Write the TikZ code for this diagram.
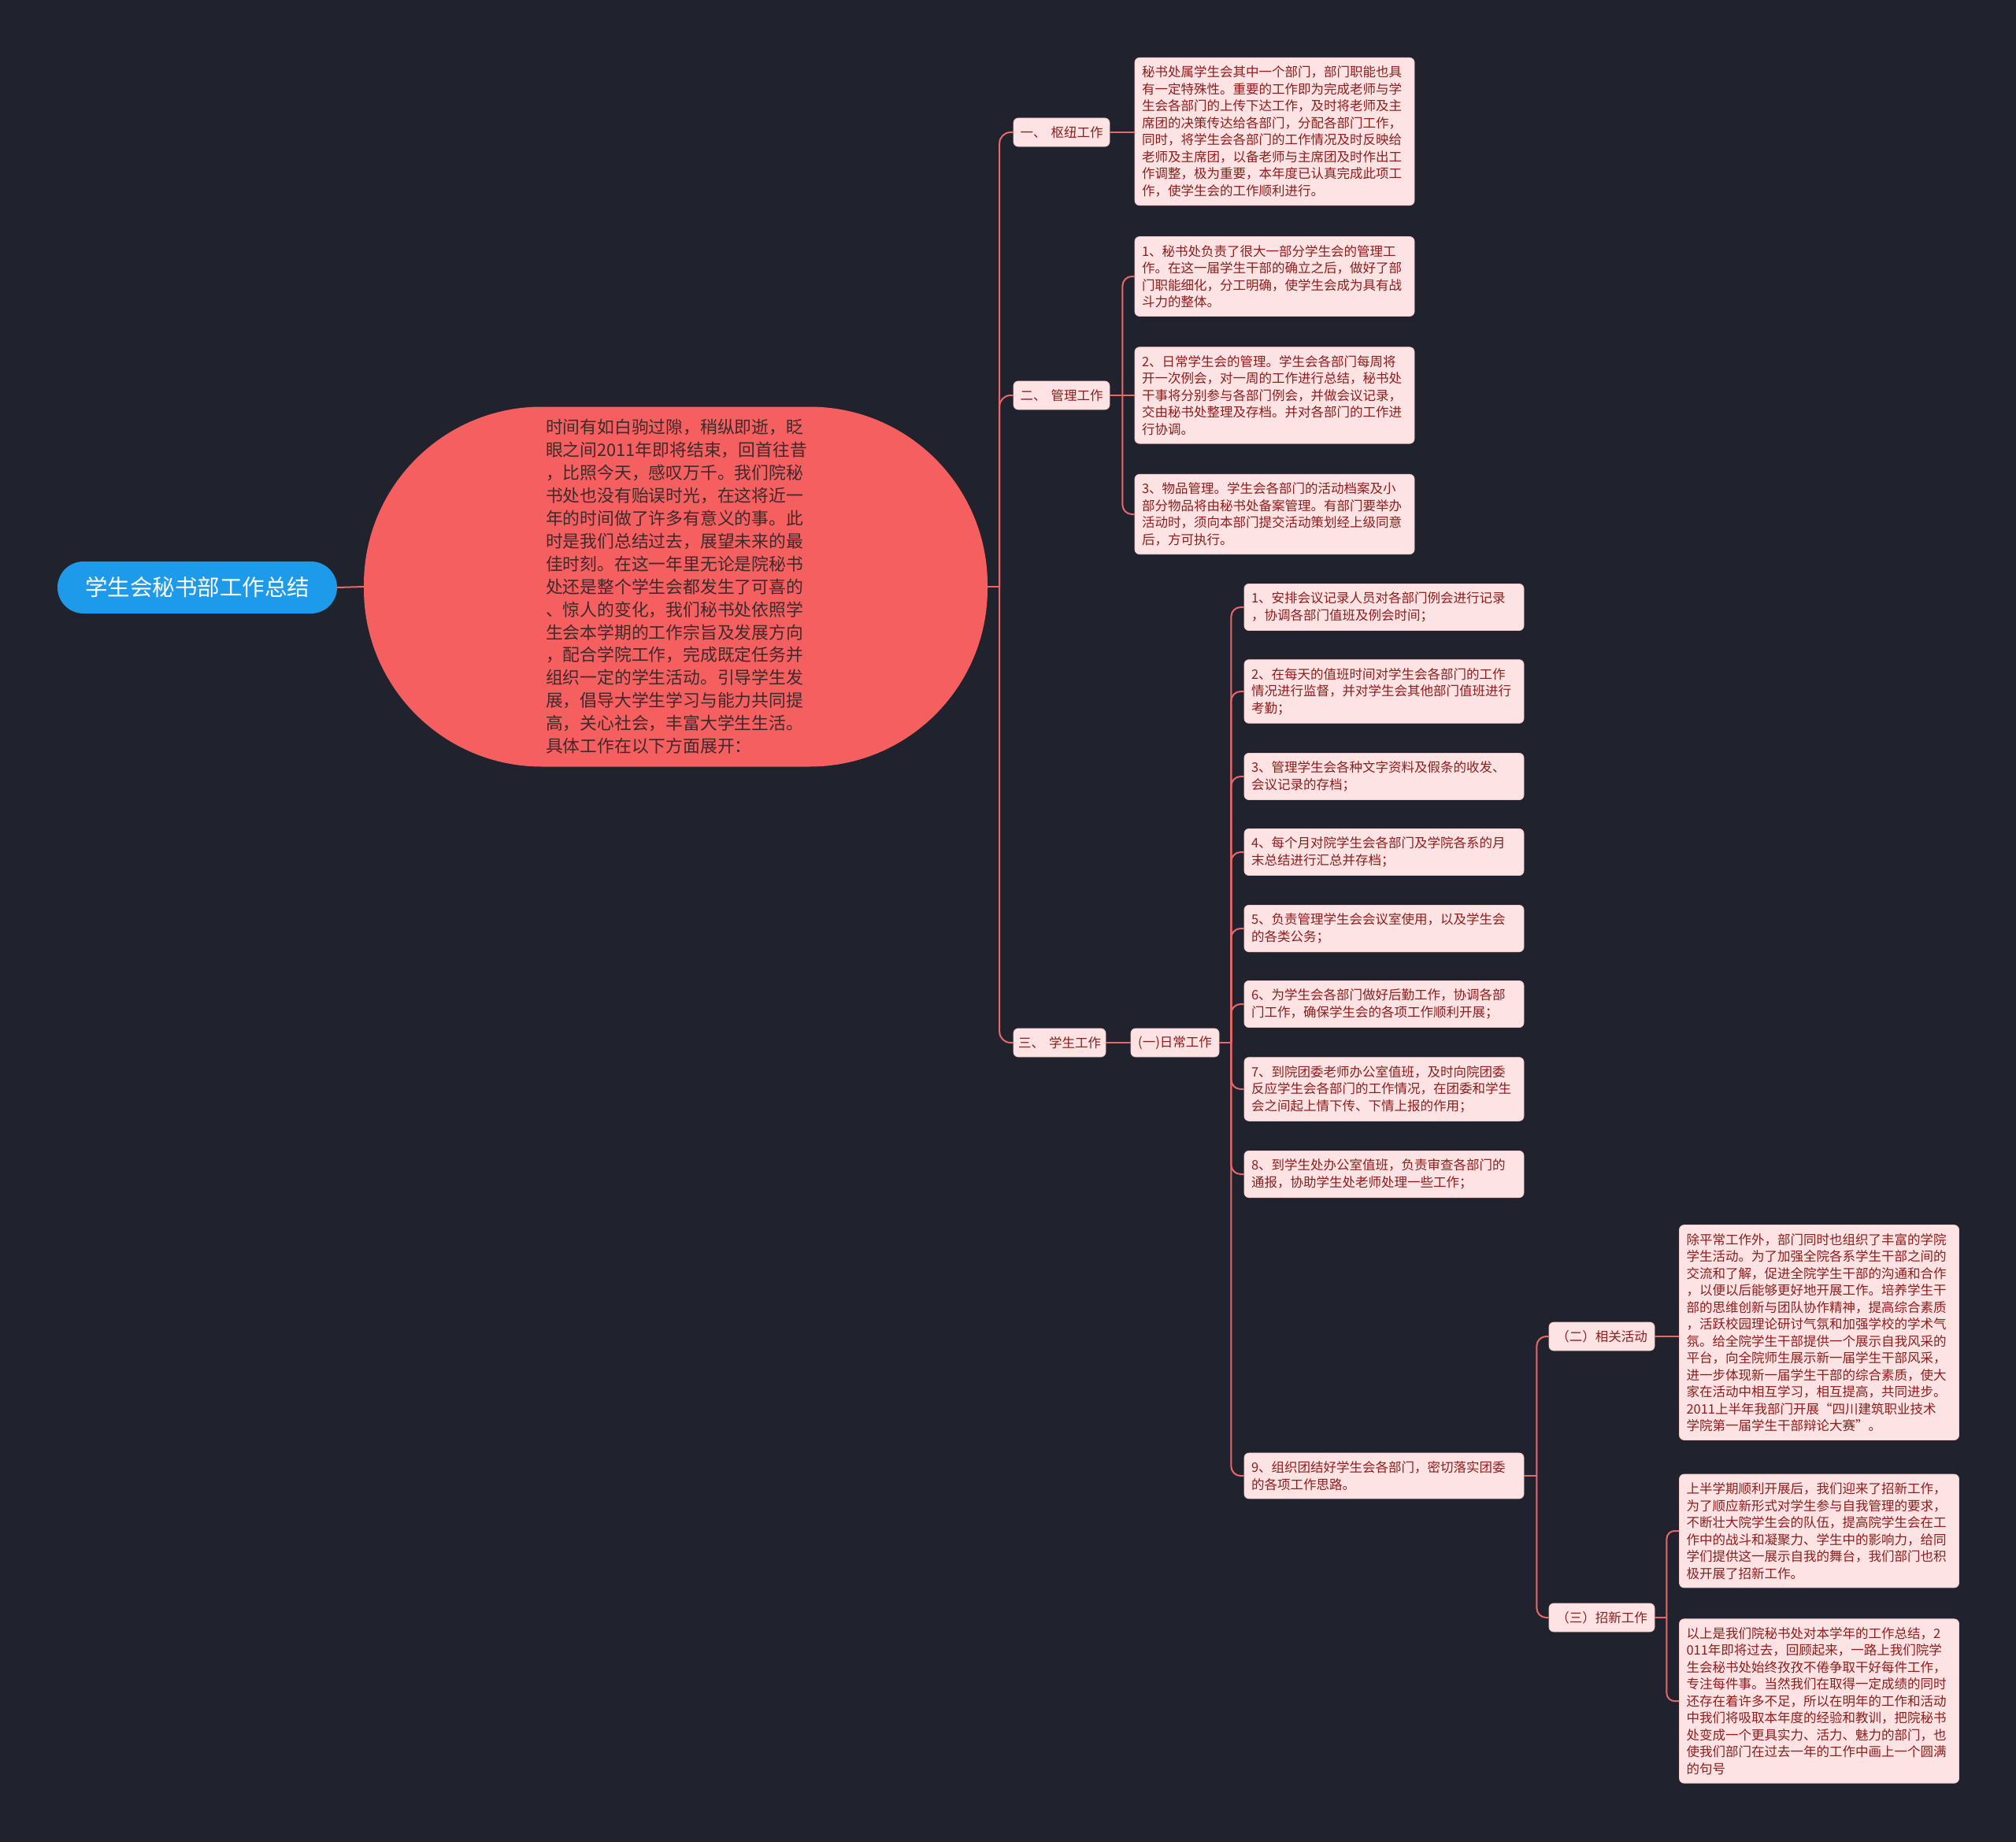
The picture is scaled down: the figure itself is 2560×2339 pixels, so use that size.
\documentclass[tikz,border=0pt]{standalone}
\usepackage{fontspec}
\usepackage{xcolor}
\usepackage{tikz}
\newfontfamily\cjk{Noto Sans CJK SC}
\definecolor{bgdark}{HTML}{20232E}
\definecolor{rootblue}{HTML}{1E9AEB}
\definecolor{midred}{HTML}{F65F5F}
\definecolor{midtext}{HTML}{3D2A2C}
\definecolor{boxfill}{HTML}{FDE3E3}
\definecolor{boxline}{HTML}{F6CACA}
\definecolor{boxtext}{HTML}{8E1D1D}
\definecolor{linkred}{HTML}{E8686A}

\begin{document}
\begin{tikzpicture}[x=1pt, y=-1pt,
    leafbox/.style={draw=boxline, line width=0.8pt, fill=boxfill, rounded corners=6pt,
        text=boxtext, font=\cjk\fontsize{16.5}{21.5}\selectfont, align=left,
        inner xsep=9pt, inner ysep=10.5pt, text width=#1},
    leafbox/.default=337pt,
    tagbox/.style={draw=boxline, line width=0.8pt, fill=boxfill, rounded corners=6pt,
        text=boxtext, font=\cjk\fontsize{16.5}{20}\selectfont, inner sep=0pt,
        minimum height=36pt, minimum width=#1},
    tagbox/.default=122pt,
    link/.style={draw=linkred, line width=2pt, rounded corners=#1},
    link/.default=12pt]
    \path[use as bounding box, fill=bgdark] (0,0) rectangle (2560,2339);

    % root and centre
    \node[fill=rootblue, text=white, rounded corners=33pt, minimum width=355pt, minimum height=66pt,
        inner sep=0pt, font=\cjk\fontsize{28.5}{32}\selectfont] (root) at (250.5,746) {学生会秘书部工作总结};
    \node[fill=midred, text=midtext, rounded corners=226pt, minimum width=792pt, minimum height=457pt,
        text width=330pt, align=left, font=\cjk\fontsize{21.8}{28.9}\selectfont] (mid) at (858,745) {%
        时间有如白驹过隙，稍纵即逝，眨\\
        眼之间2011年即将结束，回首往昔\\
        ，比照今天，感叹万千。我们院秘\\
        书处也没有贻误时光，在这将近一\\
        年的时间做了许多有意义的事。此\\
        时是我们总结过去，展望未来的最\\
        佳时刻。在这一年里无论是院秘书\\
        处还是整个学生会都发生了可喜的\\
        、惊人的变化，我们秘书处依照学\\
        生会本学期的工作宗旨及发展方向\\
        ，配合学院工作，完成既定任务并\\
        组织一定的学生活动。引导学生发\\
        展，倡导大学生学习与能力共同提\\
        高，关心社会，丰富大学生生活。\\
        具体工作在以下方面展开：};

    % main branches
    \node[tagbox] (hub) at (1348,168) {一、\hspace{6pt}枢纽工作};
    \node[tagbox] (manage) at (1348,502) {二、\hspace{6pt}管理工作};
    \node[tagbox=117pt] (student) at (1345.5,1324) {三、\hspace{6pt}学生工作};
    \node[tagbox=112pt] (daily) at (1492,1324) {(一)日常工作};
    \node[tagbox=134pt] (events) at (2034,1697) {（二）相关活动};
    \node[tagbox=134pt] (recruit) at (2034,2054) {（三）招新工作};

    % 一
    \node[leafbox] (hubtxt) at (1618.5,167) {%
        秘书处属学生会其中一个部门，部门职能也具\\
        有一定特殊性。重要的工作即为完成老师与学\\
        生会各部门的上传下达工作，及时将老师及主\\
        席团的决策传达给各部门，分配各部门工作，\\
        同时，将学生会各部门的工作情况及时反映给\\
        老师及主席团，以备老师与主席团及时作出工\\
        作调整，极为重要，本年度已认真完成此项工\\
        作，使学生会的工作顺利进行。};

    % 二
    \node[leafbox] (m1) at (1618.5,351) {%
        1、秘书处负责了很大一部分学生会的管理工\\
        作。在这一届学生干部的确立之后，做好了部\\
        门职能细化，分工明确，使学生会成为具有战\\
        斗力的整体。};
    \node[leafbox] (m2) at (1618.5,502) {%
        2、日常学生会的管理。学生会各部门每周将\\
        开一次例会，对一周的工作进行总结，秘书处\\
        干事将分别参与各部门例会，并做会议记录，\\
        交由秘书处整理及存档。并对各部门的工作进\\
        行协调。};
    \node[leafbox] (m3) at (1618.5,653) {%
        3、物品管理。学生会各部门的活动档案及小\\
        部分物品将由秘书处备案管理。有部门要举办\\
        活动时，须向本部门提交活动策划经上级同意\\
        后，方可执行。};

    % (一)日常工作
    \node[leafbox] (d1) at (1757.5,771) {1、安排会议记录人员对各部门例会进行记录\\，协调各部门值班及例会时间；};
    \node[leafbox] (d2) at (1757.5,878) {2、在每天的值班时间对学生会各部门的工作\\情况进行监督，并对学生会其他部门值班进行\\考勤；};
    \node[leafbox] (d3) at (1757.5,986) {3、管理学生会各种文字资料及假条的收发、\\会议记录的存档；};
    \node[leafbox] (d4) at (1757.5,1082) {4、每个月对院学生会各部门及学院各系的月\\末总结进行汇总并存档；};
    \node[leafbox] (d5) at (1757.5,1179) {5、负责管理学生会会议室使用，以及学生会\\的各类公务；};
    \node[leafbox] (d6) at (1757.5,1275) {6、为学生会各部门做好后勤工作，协调各部\\门工作，确保学生会的各项工作顺利开展；};
    \node[leafbox] (d7) at (1757.5,1383) {7、到院团委老师办公室值班，及时向院团委\\反应学生会各部门的工作情况，在团委和学生\\会之间起上情下传、下情上报的作用；};
    \node[leafbox] (d8) at (1757.5,1491) {8、到学生处办公室值班，负责审查各部门的\\通报，协助学生处老师处理一些工作；};
    \node[leafbox] (d9) at (1757.5,1874) {9、组织团结好学生会各部门，密切落实团委\\的各项工作思路。};

    % (二) and (三)
    \node[leafbox] (evtxt) at (2310,1692) {%
        除平常工作外，部门同时也组织了丰富的学院\\
        学生活动。为了加强全院各系学生干部之间的\\
        交流和了解，促进全院学生干部的沟通和合作\\
        ，以便以后能够更好地开展工作。培养学生干\\
        部的思维创新与团队协作精神，提高综合素质\\
        ，活跃校园理论研讨气氛和加强学校的学术气\\
        氛。给全院学生干部提供一个展示自我风采的\\
        平台，向全院师生展示新一届学生干部风采，\\
        进一步体现新一届学生干部的综合素质，使大\\
        家在活动中相互学习，相互提高，共同进步。\\
        2011上半年我部门开展“四川建筑职业技术\\
        学院第一届学生干部辩论大赛”。};
    \node[leafbox] (rc1) at (2310,1944) {%
        上半学期顺利开展后，我们迎来了招新工作，\\
        为了顺应新形式对学生参与自我管理的要求，\\
        不断壮大院学生会的队伍，提高院学生会在工\\
        作中的战斗和凝聚力、学生中的影响力，给同\\
        学们提供这一展示自我的舞台，我们部门也积\\
        极开展了招新工作。};
    \node[leafbox] (rc2) at (2310,2160) {%
        以上是我们院秘书处对本学年的工作总结，2\\
        011年即将过去，回顾起来，一路上我们院学\\
        生会秘书处始终孜孜不倦争取干好每件工作，\\
        专注每件事。当然我们在取得一定成绩的同时\\
        还存在着许多不足，所以在明年的工作和活动\\
        中我们将吸取本年度的经验和教训，把院秘书\\
        处变成一个更具实力、活力、魅力的部门，也\\
        使我们部门在过去一年的工作中画上一个圆满\\
        的句号};

    % connectors
    \draw[link] (root.east) -- (mid.west);
    \draw[link] (mid.east) -- ++(15,0) coordinate (trunk);
    \draw[link=14pt] (trunk) |- (hub.west);
    \draw[link=14pt] (trunk) |- (manage.west);
    \draw[link=14pt] (trunk) |- (student.west);
    \draw[link] (hub.east) -- (hub.east -| hubtxt.west);
    \draw[link] (manage.east) -- (m2.west);
    \path (manage.east) -- ++(16,0) coordinate (mfork);
    \draw[link] (mfork) |- (m1.west);
    \draw[link] (mfork) |- (m3.west);
    \draw[link] (student.east) -- (daily.west);
    \draw[link] (daily.east) -- ++(15,0) coordinate (dfork);
    \foreach \n in {d1,d2,d3,d4,d5,d6,d7,d8,d9}
        \draw[link] (dfork) |- (\n.west);
    \draw[link] (d9.east) -- ++(16,0) coordinate (efork);
    \draw[link] (efork) |- (events.west);
    \draw[link] (efork) |- (recruit.west);
    \draw[link] (events.east) -- (events.east -| evtxt.west);
    \draw[link] (recruit.east) -- ++(15,0) coordinate (rfork);
    \draw[link=10pt] (rfork) |- (rc1.west);
    \draw[link=10pt] (rfork) |- (rc2.west);
\end{tikzpicture}
\end{document}
